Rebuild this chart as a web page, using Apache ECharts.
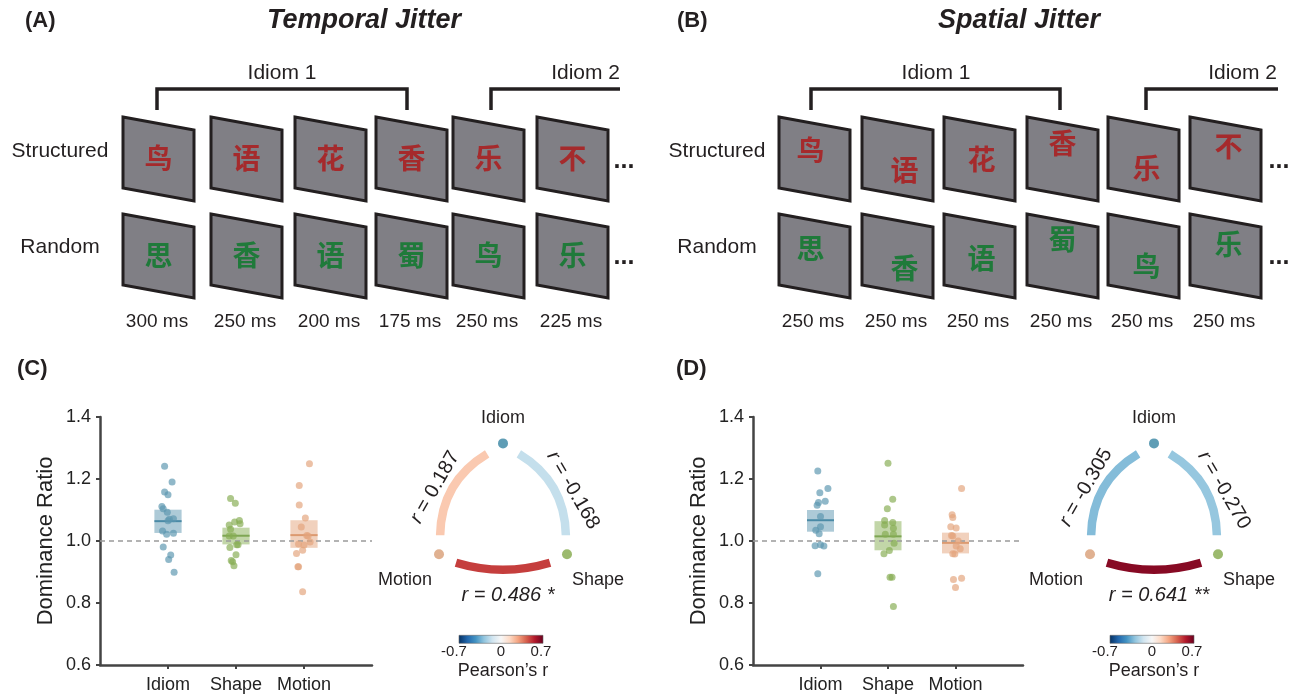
<!DOCTYPE html>
<html>
<head>
<meta charset="utf-8">
<script src="https://cdn.jsdelivr.net/npm/echarts@6/dist/echarts.min.js"></script>
<style>
html,body{margin:0;padding:0;background:#fff}
#main{width:1293px;height:695px}
</style>
</head>
<body>
<div id="main"></div>
<script>
var groups = ['Idiom', 'Shape', 'Motion'];
var groupColors = ['#5b96b0', '#86ad52', '#e3a47c'];
var medianColors = ['#4a8aa6', '#7ea653', '#dc9a70'];
var nodeColors = ['#5f9db5', '#9cba6e', '#e0b191'];

// (C) temporal jitter: dominance ratio per subject, with horizontal jitter (category units)
var idiomC = [1.241, 1.190, 1.158, 1.149, 1.111, 1.104, 1.093, 1.072, 1.070, 1.065, 1.032, 1.025, 1.022, 0.981, 0.955, 0.940, 0.899];
var idiomCJit = [-0.05, 0.06, -0.05, 0.00, -0.09, -0.07, -0.01, 0.08, 0.02, 0.00, -0.08, 0.08, -0.02, -0.07, 0.04, 0.01, 0.09];
var shapeC = [1.137, 1.122, 1.066, 1.061, 1.056, 1.052, 1.038, 1.016, 1.016, 0.988, 0.988, 0.979, 0.956, 0.937, 0.933, 0.920];
var shapeCJit = [-0.08, -0.01, 0.05, -0.02, 0.06, -0.10, -0.08, -0.04, -0.10, 0.01, 0.03, -0.09, 0.00, -0.07, -0.05, -0.03];
var motionC = [1.249, 1.179, 1.116, 1.074, 1.045, 1.018, 1.016, 0.997, 0.990, 0.987, 0.970, 0.960, 0.917, 0.917, 0.836];
var motionCJit = [0.08, -0.07, -0.07, 0.02, -0.04, 0.04, 0.06, 0.09, -0.08, 0.00, -0.02, -0.11, -0.08, -0.09, -0.02];
var boxC = [[1.026, 1.064, 1.101], [0.989, 1.017, 1.043], [0.978, 1.019, 1.067]];

// (D) spatial jitter
var idiomD = [1.226, 1.169, 1.156, 1.128, 1.124, 1.115, 1.079, 1.046, 1.035, 1.023, 0.985, 0.988, 0.984, 0.894];
var idiomDJit = [-0.04, 0.11, -0.01, 0.07, -0.03, -0.05, 0.00, 0.00, -0.07, -0.02, -0.08, 0.00, 0.05, -0.04];
var shapeD = [1.251, 1.135, 1.104, 1.066, 1.060, 1.052, 1.041, 1.022, 1.022, 0.993, 0.969, 0.959, 0.883, 0.883, 0.789];
var shapeDJit = [0.00, 0.07, -0.01, -0.05, 0.07, -0.05, 0.08, -0.04, 0.08, 0.09, 0.02, -0.06, 0.03, 0.06, 0.08];
var motionD = [1.169, 1.085, 1.076, 1.046, 1.042, 1.018, 1.016, 1.000, 0.984, 0.975, 0.959, 0.958, 0.876, 0.880, 0.850];
var motionDJit = [0.09, -0.05, -0.04, -0.07, 0.01, -0.06, -0.04, 0.04, 0.01, 0.07, -0.04, -0.01, -0.03, 0.09, 0.00];
var boxD = [[1.030, 1.067, 1.100], [0.970, 1.015, 1.064], [0.960, 0.994, 1.027]];

// correlations: motion-idiom, idiom-shape, motion-shape
var corrC = [0.187, -0.168, 0.486];
var corrD = [-0.305, -0.270, 0.641];
var starsC = ['', '', ' *'];
var starsD = ['', '', ' **'];
var cbarTicks = ['-0.7', '0', '0.7'];

// schematic
var structuredChars = ['鸟', '语', '花', '香', '乐', '不'];
var randomChars = ['思', '香', '语', '蜀', '鸟', '乐'];
var temporalMs = [300, 250, 200, 175, 250, 225];
var spatialMs = [250, 250, 250, 250, 250, 250];
var spatialStructShift = [[-4, -8], [7, 12], [2, 1], [0, -15], [3, 10], [3, -12]];
var spatialRandomShift = [[-4, -7], [7, 13], [2, 3], [0, -16], [3, 11], [3, -11]];

var FONT = '"Liberation Sans", Arial, sans-serif';
var CJK = '"Noto Sans CJK SC", sans-serif';
var INK = '#231f20';

var rdbu = ['#053061', '#2166ac', '#4393c3', '#92c5de', '#d1e5f0', '#f7f7f7', '#fddbc7', '#f4a582', '#d6604d', '#b2182b', '#67001f'];
function hex2rgb(h){ return [parseInt(h.substr(1,2),16), parseInt(h.substr(3,2),16), parseInt(h.substr(5,2),16)]; }
function corrColor(r){
	var t = (r + 0.7) / 1.4 * 10;
	t = Math.max(0, Math.min(10, t));
	var i = Math.min(9, Math.floor(t)), f = t - i;
	var a = hex2rgb(rdbu[i]), b = hex2rgb(rdbu[i+1]);
	var c = a.map(function(v, k){ return Math.round(v + (b[k] - v) * f); });
	return 'rgb(' + c.join(',') + ')';
}

function txt(x, y, text, size, opts){
	opts = opts || {};
	var st = {
		text: text, fontSize: size, fontFamily: opts.family || FONT,
		fontWeight: opts.weight || 'normal', fontStyle: opts.style || 'normal',
		fill: opts.color || INK,
		align: opts.align || 'center', textAlign: opts.align || 'center',
		verticalAlign: 'middle', textVerticalAlign: 'middle'
	};
	if (opts.rich) st.rich = opts.rich;
	return {type: 'text', x: x, y: y, rotation: opts.rotation || 0, z: 10, style: st};
}

// ---------- schematic panels ----------
function buildSchematic(g, frameLeft, chars1, chars2, ms, shift1, shift2, title, tag, rowLabelX, posts1, posts2, idiom1X, idiom2R, dotsX){
	var rowTop = [117, 214];
	shift1 = shift1 || [];
	shift2 = shift2 || [];
	g.push(txt(tag[1], 21, tag[0], 22, {weight: 'bold', align: 'left'}));
	g.push(txt(title[1], 21, title[0], 27, {weight: 'bold', style: 'italic'}));
	g.push(txt(rowLabelX, 151, 'Structured', 21));
	g.push(txt(rowLabelX, 247, 'Random', 21));
	for (var i = 0; i < frameLeft.length; i++) {
		var x = frameLeft[i];
		for (var r = 0; r < 2; r++) {
			var t = rowTop[r];
			g.push({
				type: 'polygon', z: 5,
				shape: {points: [[x, t], [x + 71, t + 13], [x + 71, t + 84], [x, t + 71]]},
				style: {fill: '#807f85', stroke: INK, lineWidth: 3, lineJoin: 'miter'}
			});
			var sh = (r === 0 ? shift1 : shift2)[i] || [0, 0];
			g.push(txt(x + 35.5 + sh[0], t + 41.5 + sh[1], (r === 0 ? chars1 : chars2)[i], 28,
				{family: CJK, weight: 'bold', color: r === 0 ? '#a52a2c' : '#1f7a3a'}));
		}
		g.push(txt(x + 34, 322, ms[i] + ' ms', 19));
	}
	g.push(txt(dotsX, 161, '...', 25, {weight: 'bold'}));
	g.push(txt(dotsX, 257, '...', 25, {weight: 'bold'}));
	g.push({type: 'polyline', z: 5, shape: {points: [[posts1[0], 110], [posts1[0], 89], [posts1[1], 89], [posts1[1], 110]]},
		style: {stroke: INK, lineWidth: 3.5, fill: null, lineJoin: 'miter'}});
	g.push({type: 'polyline', z: 5, shape: {points: [[posts2[0], 110], [posts2[0], 89], [posts2[1], 89]]},
		style: {stroke: INK, lineWidth: 3.5, fill: null, lineJoin: 'miter'}});
	g.push(txt(idiom1X, 73, 'Idiom 1', 21));
	g.push(txt(idiom2R, 73, 'Idiom 2', 21, {align: 'right'}));
}

// ---------- correlation triangles ----------
function buildTriangle(g, cx, cy, corr, stars){
	var R = 73.9, c30 = Math.cos(Math.PI / 6);
	var idiom = [cx, cy - R], motion = [cx - R * c30, cy + R / 2], shape = [cx + R * c30, cy + R / 2];
	var arcs = [[motion, idiom, 13], [idiom, shape, 13], [motion, shape, 7]];
	arcs.forEach(function(a, k){
		var p = a[0], q = a[1], s = a[2];
		var dx = q[0] - p[0], dy = q[1] - p[1], L = Math.sqrt(dx * dx + dy * dy);
		var d = [dx / L, dy / L], n = [d[1], -d[0]];
		var mid = [(p[0] + q[0]) / 2, (p[1] + q[1]) / 2];
		if ((mid[0] - cx) * n[0] + (mid[1] - cy) * n[1] < 0) n = [-n[0], -n[1]];
		var tr = 17, off = 8.5;
		g.push({
			type: 'bezierCurve', z: 6,
			shape: {
				x1: p[0] + d[0] * tr + n[0] * off, y1: p[1] + d[1] * tr + n[1] * off,
				x2: q[0] - d[0] * tr + n[0] * off, y2: q[1] - d[1] * tr + n[1] * off,
				cpx1: mid[0] + n[0] * (off + 2 * s), cpy1: mid[1] + n[1] * (off + 2 * s)
			},
			style: {stroke: corrColor(corr[k]), lineWidth: 8.5, fill: null, lineCap: 'butt'}
		});
	});
	[idiom, shape, motion].forEach(function(p, k){
		g.push({type: 'circle', z: 7, shape: {cx: p[0], cy: p[1], r: 5}, style: {fill: nodeColors[k]}});
	});
	g.push(txt(cx, cy - R - 25, 'Idiom', 18));
	g.push(txt(cx - 71, cy + 63, 'Motion', 18, {align: 'right'}));
	g.push(txt(cx + 69, cy + 63, 'Shape', 18, {align: 'left'}));
	var rich = {i: {fontStyle: 'italic', fontSize: 20, fontFamily: FONT, fill: INK}, n: {fontSize: 20, fontFamily: FONT, fill: INK}};
	g.push(txt(cx - 68, cy - 30, '{i|r}{n| = ' + corr[0].toFixed(3) + '}', 20, {rotation: Math.PI / 3, rich: rich}));
	g.push(txt(cx + 70, cy - 27, '{i|r}{n| = ' + corr[1].toFixed(3) + '}', 20, {rotation: -Math.PI / 3, rich: rich}));
	g.push(txt(cx + 5, cy + 78, 'r = ' + corr[2].toFixed(3) + stars[2], 20, {style: 'italic'}));
	// colour bar
	var bx = cx - 44, by = cy + 118, bw = 84, bh = 8;
	g.push({
		type: 'rect', z: 6, shape: {x: bx, y: by, width: bw, height: bh},
		style: {
			fill: new echarts.graphic.LinearGradient(0, 0, 1, 0, rdbu.map(function(c, i){ return {offset: i / 10, color: c}; })),
			stroke: '#666', lineWidth: 0.6
		}
	});
	g.push(txt(bx - 5, by + 17, cbarTicks[0], 15));
	g.push(txt(bx + bw / 2, by + 17, cbarTicks[1], 15));
	g.push(txt(bx + bw - 2, by + 17, cbarTicks[2], 15));
	g.push(txt(cx, by + 36, 'Pearson\u2019s r', 18));
}

var graphics = [];
buildSchematic(graphics, [123, 211, 295, 376, 453, 537], structuredChars, randomChars, temporalMs, null, null,
	['Temporal Jitter', 364], ['(A)', 25], 60, [157, 407], [491, 620], 282, 620, 624);
buildSchematic(graphics, [779, 862, 944, 1027, 1108, 1190], structuredChars, randomChars, spatialMs, spatialStructShift, spatialRandomShift,
	['Spatial Jitter', 1019], ['(B)', 677], 717, [811, 1060], [1146, 1278], 936, 1277, 1279);
graphics.push(txt(17, 369, '(C)', 22, {weight: 'bold', align: 'left'}));
graphics.push(txt(676, 369, '(D)', 22, {weight: 'bold', align: 'left'}));
buildTriangle(graphics, 503, 517.3, corrC, starsC);
buildTriangle(graphics, 1154, 517.3, corrD, starsD);

// ---------- strip plots ----------
function jitterData(vals, jit, center){
	return vals.map(function(v, i){ return [center + jit[i], v]; });
}
function axisPair(idx){
	var line = {show: true, lineStyle: {color: '#444', width: 2.5}};
	var x = {
		type: 'value', gridIndex: idx, min: 0, max: 4,
		axisLine: line, splitLine: {show: false},
		axisLabel: {customValues: [1, 2, 3], fontSize: 18, color: '#222', fontFamily: FONT, margin: 11,
			formatter: function(v){ return groups[Math.round(v) - 1] || ''; }},
		axisTick: {show: true, customValues: [1, 2, 3], length: 4, lineStyle: {color: '#444', width: 2}}
	};
	var y = {
		type: 'value', gridIndex: idx, min: 0.6, max: 1.4, interval: 0.2,
		name: 'Dominance Ratio', nameLocation: 'middle', nameGap: 43,
		nameTextStyle: {fontSize: 22, color: '#222', fontFamily: FONT},
		axisLine: line, splitLine: {show: false},
		axisTick: {show: true, length: 4, lineStyle: {color: '#444', width: 2}},
		axisLabel: {fontSize: 18, color: '#222', fontFamily: FONT, margin: 9,
			formatter: function(v){ return v.toFixed(1); }}
	};
	return [x, y];
}
function stripSeries(idx, sets, boxes){
	var out = [];
	out.push({
		type: 'line', xAxisIndex: idx, yAxisIndex: idx, data: [[0, 1], [4, 1]], symbol: 'none', silent: true, z: 3,
		lineStyle: {color: '#9a9a9a', width: 1.5, type: [5, 4]}
	});
	out.push({
		type: 'custom', xAxisIndex: idx, yAxisIndex: idx, z: 2, silent: true,
		data: boxes.map(function(b, i){ return [i + 1, b[0], b[1], b[2]]; }),
		encode: {x: 0, y: [1, 2, 3]},
		renderItem: function(params, api){
			var x = api.value(0), lo = api.value(1), med = api.value(2), hi = api.value(3);
			var k = Math.round(x) - 1;
			var a = api.coord([x - 0.2, hi]), b = api.coord([x + 0.2, lo]);
			var m1 = api.coord([x - 0.2, med]), m2 = api.coord([x + 0.2, med]);
			return {type: 'group', children: [
				{type: 'rect', shape: {x: a[0], y: a[1], width: b[0] - a[0], height: b[1] - a[1]},
					style: {fill: groupColors[k], opacity: 0.5}},
				{type: 'line', shape: {x1: m1[0], y1: m1[1], x2: m2[0], y2: m2[1]},
					style: {stroke: medianColors[k], lineWidth: 2}}
			]};
		}
	});
	sets.forEach(function(s, k){
		out.push({
			type: 'scatter', xAxisIndex: idx, yAxisIndex: idx, z: 4, symbolSize: 7,
			itemStyle: {color: groupColors[k], opacity: 0.68},
			data: jitterData(s[0], s[1], k + 1)
		});
	});
	return out;
}

var chart = echarts.init(document.getElementById('main'), null, {renderer: 'canvas'});
var axC = axisPair(0), axD = axisPair(1);
chart.setOption({
	animation: false,
	backgroundColor: '#fff',
	grid: [
		{left: 100, top: 417, width: 272, height: 248},
		{left: 753, top: 417, width: 270, height: 248}
	],
	xAxis: [axC[0], axD[0]],
	yAxis: [axC[1], axD[1]],
	series: stripSeries(0, [[idiomC, idiomCJit], [shapeC, shapeCJit], [motionC, motionCJit]], boxC)
		.concat(stripSeries(1, [[idiomD, idiomDJit], [shapeD, shapeDJit], [motionD, motionDJit]], boxD)),
	graphic: graphics
});
</script>
</body>
</html>
